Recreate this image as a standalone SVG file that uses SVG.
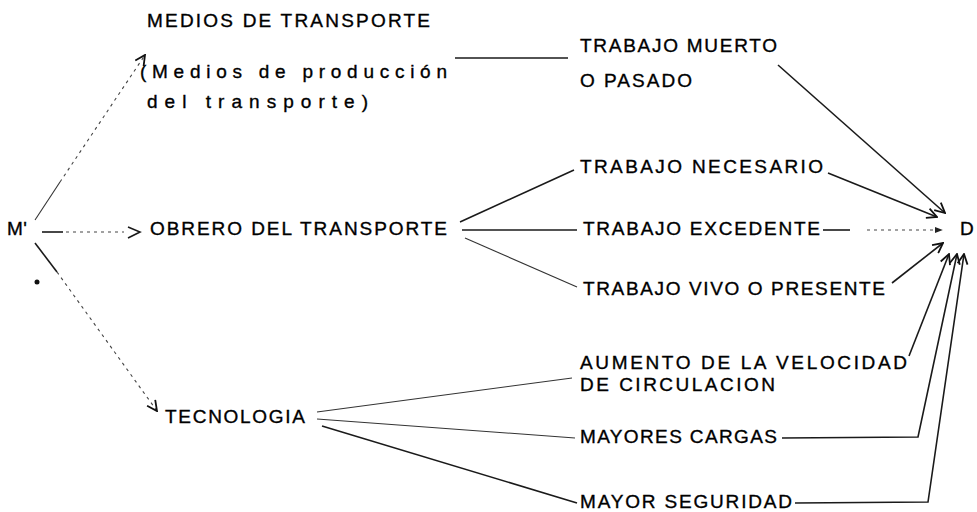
<svg xmlns="http://www.w3.org/2000/svg" width="977" height="512" viewBox="0 0 977 512">
<defs>
<style>
text{font-family:"Liberation Sans","DejaVu Sans",sans-serif;font-size:19px;fill:#000;stroke:#000;stroke-width:0.35}
.ln{stroke:#1a1a1a;stroke-width:1.6;fill:none}
.fn{stroke:#333;stroke-width:1.1;fill:none}
.dt{stroke:#444;stroke-width:1.1;fill:none;stroke-dasharray:3 4}
</style>
<marker id="av" viewBox="0 0 12 12" refX="11" refY="6" markerWidth="12" markerHeight="12" markerUnits="userSpaceOnUse" orient="auto">
<path d="M1,1 L11,6 L1,11" fill="none" stroke="#111" stroke-width="1.8"/>
</marker>
<marker id="af" viewBox="0 0 10 10" refX="9" refY="5" markerWidth="8" markerHeight="8" markerUnits="userSpaceOnUse" orient="auto">
<path d="M0,1 L10,5 L0,9 Z" fill="#222"/>
</marker>
</defs>
<rect width="977" height="512" fill="#fff"/>
<g id="connectors">
<line class="fn" x1="35" y1="220" x2="60" y2="182"/>
<line class="dt" x1="60" y1="182" x2="145" y2="55" marker-end="url(#av)"/>
<line class="ln" x1="42" y1="232" x2="63" y2="232"/>
<line class="dt" x1="66" y1="232" x2="124" y2="232"/>
<polyline class="ln" stroke-width="2.4" points="128,227 140,232 128,238"/>
<line class="ln" x1="35" y1="243" x2="57" y2="272"/>
<line class="dt" x1="57" y1="272" x2="157" y2="411" marker-end="url(#av)"/>
<circle cx="37" cy="282" r="2.5" fill="#111"/>
<line class="ln" x1="455" y1="58" x2="568" y2="58"/>
<line class="ln" x1="460" y1="222" x2="574" y2="170"/>
<line class="ln" x1="462" y1="230" x2="577" y2="230"/>
<line class="fn" x1="465" y1="238" x2="577" y2="287"/>
<line class="fn" x1="317" y1="412" x2="572" y2="378"/>
<line class="fn" x1="317" y1="419" x2="575" y2="438"/>
<line class="ln" x1="322" y1="426" x2="577" y2="503"/>
<line class="ln" x1="778" y1="65" x2="945" y2="213" marker-end="url(#av)"/>
<line class="ln" x1="828" y1="173" x2="937" y2="217" marker-end="url(#av)"/>
<line class="ln" stroke-width="2" x1="823" y1="230" x2="850" y2="230"/>
<line class="dt" x1="867" y1="230" x2="942" y2="230" marker-end="url(#af)"/>
<line class="ln" x1="892" y1="283" x2="943" y2="243" marker-end="url(#av)"/>
<line class="ln" x1="909" y1="356" x2="949" y2="254" marker-end="url(#av)"/>
<polyline class="ln" points="782,438 918,437 957,254" marker-end="url(#av)"/>
<polyline class="ln" points="795,503 928,502 964,254" marker-end="url(#av)"/>
</g>
<g id="n-medios"><text x="147" y="27" textLength="283" lengthAdjust="spacing">MEDIOS DE TRANSPORTE</text></g>
<g id="n-medios-sub"><text x="140" y="78" textLength="307" lengthAdjust="spacing">(Medios de producción</text><text x="147" y="108" textLength="221" lengthAdjust="spacing">del transporte)</text></g>
<g id="n-muerto"><text x="580" y="52" textLength="197" lengthAdjust="spacing">TRABAJO MUERTO</text><text x="580" y="87" textLength="112" lengthAdjust="spacing">O PASADO</text></g>
<g id="n-necesario"><text x="580" y="173" textLength="243" lengthAdjust="spacing">TRABAJO NECESARIO</text></g>
<g id="n-m"><text x="7" y="235" textLength="20" lengthAdjust="spacing">M'</text></g>
<g id="n-obrero"><text x="150" y="235" textLength="297" lengthAdjust="spacing">OBRERO DEL TRANSPORTE</text></g>
<g id="n-excedente"><text x="583" y="235" textLength="237" lengthAdjust="spacing">TRABAJO EXCEDENTE</text></g>
<g id="n-d"><text x="960" y="235">D</text></g>
<g id="n-vivo"><text x="583" y="295" textLength="302" lengthAdjust="spacing">TRABAJO VIVO O PRESENTE</text></g>
<g id="n-tecnologia"><text x="165" y="423" textLength="140" lengthAdjust="spacing">TECNOLOGIA</text></g>
<g id="n-aumento"><text x="580" y="369" textLength="327" lengthAdjust="spacing">AUMENTO DE LA VELOCIDAD</text><text x="580" y="391" textLength="195" lengthAdjust="spacing">DE CIRCULACION</text></g>
<g id="n-cargas"><text x="580" y="443" textLength="197" lengthAdjust="spacing">MAYORES CARGAS</text></g>
<g id="n-seguridad"><text x="580" y="508" textLength="212" lengthAdjust="spacing">MAYOR SEGURIDAD</text></g>
</svg>
